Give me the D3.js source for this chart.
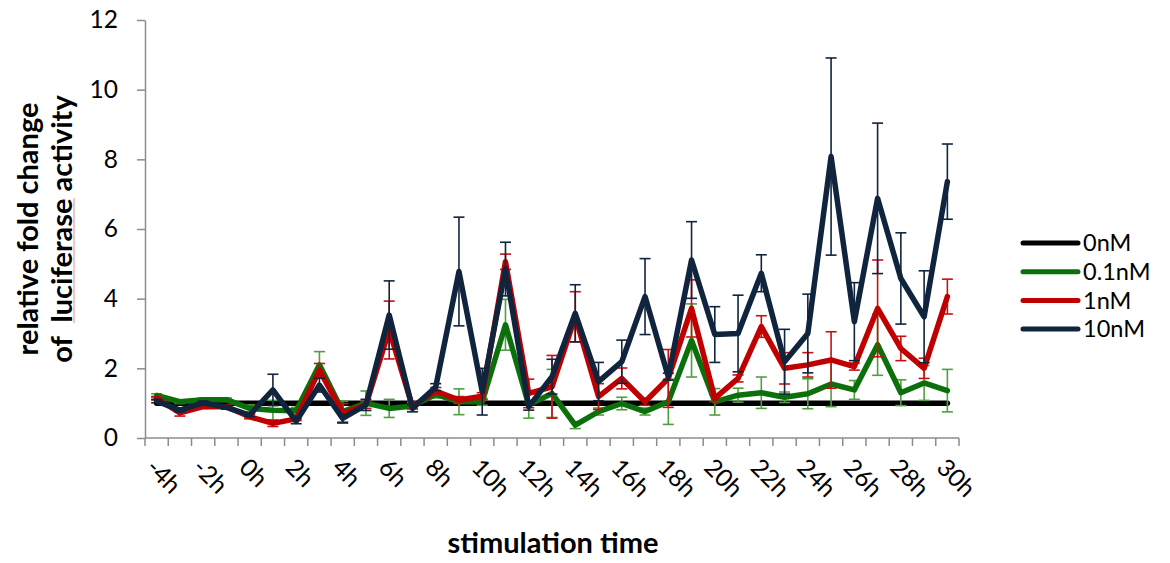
<!DOCTYPE html>
<html>
<head>
<meta charset="utf-8">
<script src="https://cdn.jsdelivr.net/npm/d3@7"></script>
<style>
  body { margin: 0; background: #fff; }
  svg text { font-family: Lato, "Open Sans", sans-serif; fill: #000; }
</style>
</head>
<body>
<svg id="chart" width="1170" height="563"></svg>
<script>
// hourly categories, labels shown every 2h
const categories = ["-4h","-3h","-2h","-1h","0h","1h","2h","3h","4h","5h","6h","7h","8h","9h","10h","11h",
  "12h","13h","14h","15h","16h","17h","18h","19h","20h","21h","22h","23h","24h","25h","26h","27h","28h","29h","30h"];
const tickLabels = ["-4h","-2h","0h","2h","4h","6h","8h","10h","12h","14h","16h","18h","20h","22h","24h","26h","28h","30h"];
const yTicks = [0, 2, 4, 6, 8, 10, 12];

const nM0 = [1,1,1,1,1,1,1,1,1,1,1,1,1,1,1,1,1,1,1,1,1,1,1,1,1,1,1,1,1,1,1,1,1,1,1];
const nM0err = [0,0,0,0,0,0,0,0,0,0,0,0,0,0,0,0,0,0,0,0,0,0,0,0,0,0,0,0,0,0,0,0,0,0,0];

const nM01 = [1.22,1.04,1.10,1.10,0.85,0.80,0.78,2.10,0.76,1.00,0.85,0.92,1.25,1.04,1.04,3.25,0.95,1.28,0.37,0.76,
  0.99,0.76,1.04,2.80,1.04,1.23,1.30,1.17,1.27,1.55,1.38,2.68,1.30,1.58,1.36];
const nM01err = [0.05,0.05,0.05,0.05,0.10,0.28,0.10,0.38,0.30,0.35,0.26,0.10,0.10,0.37,0.10,0.73,0.38,0.69,0.10,0.10,
  0.18,0.10,0.65,1.05,0.38,0.20,0.45,0.15,0.43,0.65,0.27,0.88,0.37,0.50,0.61];

const nM1 = [1.14,0.72,0.90,0.90,0.61,0.42,0.55,1.95,0.71,0.95,3.10,0.90,1.35,1.09,1.20,5.06,1.28,1.47,3.48,1.19,
  1.71,1.04,1.71,3.72,1.14,1.71,3.20,2.00,2.10,2.24,2.05,3.72,2.57,2.00,4.06];
const nM1err = [0.05,0.09,0.05,0.05,0.06,0.09,0.05,0.19,0.28,0.10,0.83,0.05,0.10,0.10,0.10,0.22,0.41,0.90,0.72,0.37,
  0.30,0.10,0.83,0.82,0.10,0.10,0.31,0.45,0.35,0.81,0.10,1.39,0.35,0.29,0.50];

const nM10 = [1.06,0.80,1.01,0.88,0.66,1.38,0.48,1.52,0.56,0.95,3.53,0.85,1.46,4.78,1.33,4.85,0.90,1.76,3.58,1.62,
  2.19,4.06,1.76,5.11,2.97,3.00,4.73,2.19,3.00,8.08,3.34,6.88,4.58,3.48,7.36];
const nM10err = [0.05,0.05,0.05,0.05,0.05,0.45,0.07,0.20,0.12,0.16,0.98,0.10,0.10,1.56,0.67,0.77,0.10,0.50,0.82,0.55,
  0.62,1.09,0.10,1.10,0.80,1.10,0.53,0.93,1.13,2.83,1.12,2.16,1.31,1.32,1.08];

const series = [
  { name: "0nM",   values: nM0,  err: nM0err,  color: "#000000", errColor: "#000000" },
  { name: "0.1nM", values: nM01, err: nM01err, color: "#0b700b", errColor: "#4f9f3f" },
  { name: "1nM",   values: nM1,  err: nM1err,  color: "#c00000", errColor: "#c81010" },
  { name: "10nM",  values: nM10, err: nM10err, color: "#10243e", errColor: "#10243e" }
];

const svg = d3.select("#chart");
const axisColor = "#8c8c8c";

const x = d3.scaleBand().domain(categories).range([145, 959]).padding(0);
const y = d3.scaleLinear().domain([0, 12]).range([438, 20]);
const cx = c => x(c) + x.bandwidth() / 2;

// y axis
const yAxis = svg.append("g")
  .attr("transform", "translate(145,0)")
  .call(d3.axisLeft(y).tickValues(yTicks).tickSize(8).tickSizeOuter(0).tickPadding(19));
yAxis.select(".domain").attr("stroke", axisColor).attr("stroke-width", 1.5);
yAxis.selectAll(".tick line").attr("stroke", axisColor).attr("stroke-width", 1.5);
yAxis.selectAll(".tick text").attr("font-size", 24.5).attr("font-family", "Lato").attr("fill", "#000");

// x axis (ticks between categories)
const xg = svg.append("g");
xg.append("line")
  .attr("x1", x.range()[0]).attr("x2", x.range()[1])
  .attr("y1", y(0)).attr("y2", y(0))
  .attr("stroke", axisColor).attr("stroke-width", 1.5);
const bounds = categories.map(c => x(c)).concat([x.range()[1]]);
xg.selectAll("line.tk")
  .data(bounds)
  .enter().append("line")
  .attr("class", "tk")
  .attr("x1", d => d).attr("x2", d => d)
  .attr("y1", y(0)).attr("y2", y(0) + 8)
  .attr("stroke", axisColor).attr("stroke-width", 1.5);
xg.selectAll("text")
  .data(tickLabels)
  .enter().append("text")
  .attr("transform", d => `translate(${cx(d) - 12},${y(0) + 31}) rotate(45)`)
  .attr("font-size", 24.5)
  .text(d => d);

// error bars + lines
const line = d3.line()
  .x((d, i) => cx(categories[i]))
  .y(d => y(d));

series.forEach(s => {
  const g = svg.append("g");
  const pts = s.values.map((v, i) => ({ c: categories[i], v: v, e: s.err[i] })).filter(d => d.e > 0);
  g.selectAll("line.eb")
    .data(pts)
    .enter().append("line")
    .attr("x1", d => cx(d.c)).attr("x2", d => cx(d.c))
    .attr("y1", d => y(d.v - d.e)).attr("y2", d => y(d.v + d.e))
    .attr("stroke", s.errColor).attr("stroke-width", 1.6);
  [1, -1].forEach(sign => {
    g.selectAll("line.cap" + sign)
      .data(pts)
      .enter().append("line")
      .attr("x1", d => cx(d.c) - 5.5).attr("x2", d => cx(d.c) + 5.5)
      .attr("y1", d => y(d.v + sign * d.e)).attr("y2", d => y(d.v + sign * d.e))
      .attr("stroke", s.errColor).attr("stroke-width", 1.6);
  });
  g.append("path")
    .datum(s.values)
    .attr("d", line)
    .attr("fill", "none")
    .attr("stroke", s.color)
    .attr("stroke-width", 5.5)
    .attr("stroke-linejoin", "round")
    .attr("stroke-linecap", "round");
});

// legend
const legend = svg.append("g").attr("transform", "translate(1023,243)");
const rows = legend.selectAll("g")
  .data(series)
  .enter().append("g")
  .attr("transform", (d, i) => `translate(0,${i * 28.7})`);
rows.append("line")
  .attr("x1", 0).attr("x2", 55)
  .attr("stroke", d => d.color)
  .attr("stroke-width", 5)
  .attr("stroke-linecap", "round");
rows.append("text")
  .attr("x", 60).attr("dy", "0.35em")
  .attr("font-size", 23.5)
  .text(d => d.name);

// axis titles
const yTitle = svg.append("text")
  .attr("transform", "translate(0,229) rotate(-90)")
  .attr("text-anchor", "middle")
  .attr("font-size", 29)
  .attr("font-weight", "bold");
yTitle.append("tspan").attr("x", 0).attr("y", 38).text("relative fold change");
yTitle.append("tspan").attr("x", 0).attr("y", 72).attr("xml:space", "preserve").text("of  luciferase activity");

// spell-check squiggle under "luciferase"
svg.append("line")
  .attr("x1", 74).attr("x2", 74)
  .attr("y1", 198).attr("y2", 323)
  .attr("stroke", "#f08a8a").attr("stroke-width", 1);

svg.append("text")
  .attr("x", 553).attr("y", 553)
  .attr("text-anchor", "middle")
  .attr("font-size", 29)
  .attr("font-weight", "bold")
  .text("stimulation time");
</script>
</body>
</html>
